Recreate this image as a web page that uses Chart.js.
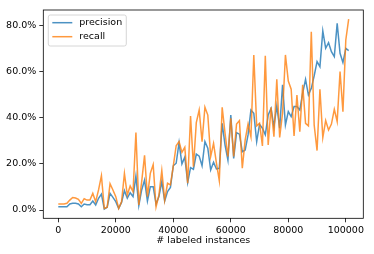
<!DOCTYPE html>
<html>
<head>
<meta charset="utf-8">
<script src="https://cdn.jsdelivr.net/npm/chart.js@4/dist/chart.umd.min.js"></script>
<style>
  html, body { margin: 0; padding: 0; background: #fff; }
  canvas { display: block; }
</style>
</head>
<body>
<canvas id="chart" width="374" height="254"></canvas>
<script>
const instances = [
  0, 1000, 2000, 3000, 4000, 5000, 6000, 7000, 8000, 9000,
  10000, 11000, 12000, 13000, 14000, 15000, 16000, 17000, 18000, 19000,
  20000, 21000, 22000, 23000, 24000, 25000, 26000, 27000, 28000, 29000,
  30000, 31000, 32000, 33000, 34000, 35000, 36000, 37000, 38000, 39000,
  40000, 41000, 42000, 43000, 44000, 45000, 46000, 47000, 48000, 49000,
  50000, 51000, 52000, 53000, 54000, 55000, 56000, 57000, 58000, 59000,
  60000, 61000, 62000, 63000, 64000, 65000, 66000, 67000, 68000, 69000,
  70000, 71000, 72000, 73000, 74000, 75000, 76000, 77000, 78000, 79000,
  80000, 81000, 82000, 83000, 84000, 85000, 86000, 87000, 88000, 89000,
  90000, 91000, 92000, 93000, 94000, 95000, 96000, 97000, 98000, 99000,
  100000, 101000
];

// percent values
const precision = [
  1.4, 1.4, 1.4, 1.4, 2.6, 2.9, 2.9, 2.6, 1.4, 2.6,
  2.3, 2.3, 3.9, 2.2, 5.1, 6.9, 0.4, 1.2, 7.2, 5.5,
  3.6, 0.7, 3.3, 8.4, 5.1, 7.5, 5.8, 14.8, 1.9, 8.7,
  13.0, 3.9, 10.1, 10.1, 2.6, 5.8, 12.3, 3.9, 8.0, 9.8,
  19.2, 20.3, 29.2, 20.0, 22.9, 11.9, 18.4, 17.7, 24.3, 23.4,
  19.2, 29.7, 26.8, 17.4, 20.7, 17.8, 18.1, 37.6, 28.2, 21.7,
  41.2, 22.4, 33.6, 32.9, 25.3, 26.0, 32.6, 43.4, 42.0, 29.7,
  37.2, 35.5, 32.6, 41.2, 44.1, 36.2, 45.2, 35.5, 54.3, 36.9,
  42.7, 40.5, 44.9, 44.9, 43.4, 50.7, 56.7, 49.9, 52.8, 58.2,
  64.4, 62.2, 77.7, 70.2, 72.6, 68.7, 66.6, 81.0, 68.0, 64.0,
  70.2, 69.2
];

const recall = [
  2.6, 2.6, 2.6, 2.9, 4.3, 5.4, 5.2, 4.6, 2.9, 4.9,
  4.3, 4.3, 7.2, 3.6, 8.7, 14.9, 0.7, 1.2, 11.4, 8.7,
  5.8, 0.7, 3.6, 15.9, 6.5, 10.4, 8.0, 33.6, 2.2, 12.3,
  23.7, 5.8, 15.9, 19.7, 1.4, 6.5, 17.1, 4.3, 11.6, 10.9,
  19.2, 27.9, 29.7, 25.0, 27.2, 11.6, 40.8, 18.8, 37.9, 43.4,
  29.7, 44.6, 41.2, 23.2, 28.9, 20.3, 12.7, 44.6, 33.3, 23.2,
  39.8, 23.2, 37.3, 38.8, 18.1, 30.4, 37.3, 31.8, 67.3, 36.5,
  37.6, 27.8, 66.9, 28.2, 44.6, 31.8, 56.7, 31.5, 42.0, 67.3,
  56.0, 52.4, 32.1, 49.9, 34.0, 54.3, 37.6, 36.5, 77.4, 36.9,
  25.8, 52.4, 31.4, 38.8, 34.7, 37.3, 43.7, 38.4, 60.1, 42.7,
  73.8, 82.8
];

const xTicks = [0, 20000, 40000, 60000, 80000, 100000];
const yTicks = [0, 20, 40, 60, 80];

const FONT = { family: 'DejaVu Sans', size: 9.5 };

// matplotlib style box around the axes + legend inside
const framePlugin = {
  id: 'frame',
  afterDraw(chart) {
    const { ctx, chartArea: a } = chart;
    ctx.save();
    ctx.strokeStyle = '#000';
    ctx.lineWidth = 0.8;
    ctx.strokeRect(a.left, a.top, a.right - a.left, a.bottom - a.top);

    // legend
    const x = a.left + 5, y = a.top + 5, w = 78, h = 31;
    ctx.beginPath();
    ctx.roundRect(x, y, w, h, 2);
    ctx.fillStyle = 'rgba(255,255,255,0.8)';
    ctx.fill();
    ctx.strokeStyle = '#cccccc';
    ctx.lineWidth = 0.8;
    ctx.stroke();

    ctx.font = FONT.size + 'px ' + FONT.family;
    ctx.textBaseline = 'middle';
    ctx.fillStyle = '#000';
    chart.data.datasets.forEach((ds, i) => {
      const ly = y + 7.7 + i * 14;
      ctx.beginPath();
      ctx.moveTo(x + 4, ly);
      ctx.lineTo(x + 24, ly);
      ctx.strokeStyle = ds.borderColor;
      ctx.lineWidth = 1.5;
      ctx.stroke();
      ctx.fillText(ds.label, x + 31, ly);
    });
    ctx.restore();
  }
};

new Chart(document.getElementById('chart').getContext('2d'), {
  type: 'line',
  data: {
    datasets: [
      {
        label: 'precision',
        data: instances.map((x, i) => ({ x, y: precision[i] })),
        borderColor: 'rgba(31,119,180,0.8)',
        borderWidth: 1.5,
        pointRadius: 0,
        tension: 0,
        order: 2
      },
      {
        label: 'recall',
        data: instances.map((x, i) => ({ x, y: recall[i] })),
        borderColor: 'rgba(255,127,14,0.8)',
        borderWidth: 1.5,
        pointRadius: 0,
        tension: 0,
        order: 1
      }
    ]
  },
  options: {
    responsive: false,
    animation: false,
    layout: { padding: { top: 10, right: 10.7, left: 0, bottom: 0 } },
    plugins: { legend: { display: false }, tooltip: { enabled: false } },
    scales: {
      x: {
        type: 'linear',
        min: -5217,
        max: 106087,
        afterBuildTicks: (axis) => { axis.ticks = xTicks.map((v) => ({ value: v })); },
        afterFit: (axis) => { axis.height = 35.7; },
        grid: { drawOnChartArea: false, drawTicks: true, tickLength: 4, color: '#000', lineWidth: 0.8 },
        border: { display: false },
        ticks: {
          color: '#000',
          font: FONT,
          padding: 3,
          maxRotation: 0,
          callback: (v) => String(v)
        },
        title: {
          display: true,
          text: '# labeled instances',
          color: '#000',
          font: FONT,
          padding: { top: 0, bottom: 7.3 }
        }
      },
      y: {
        type: 'linear',
        min: -3.6,
        max: 86.8,
        afterBuildTicks: (axis) => { axis.ticks = yTicks.map((v) => ({ value: v })); },
        afterFit: (axis) => { axis.width = 43.3; },
        grid: { drawOnChartArea: false, drawTicks: true, tickLength: 4, color: '#000', lineWidth: 0.8 },
        border: { display: false },
        ticks: {
          color: '#000',
          font: FONT,
          padding: 3,
          callback: (v) => v.toFixed(1) + '%'
        }
      }
    }
  },
  plugins: [framePlugin]
});
</script>
</body>
</html>
